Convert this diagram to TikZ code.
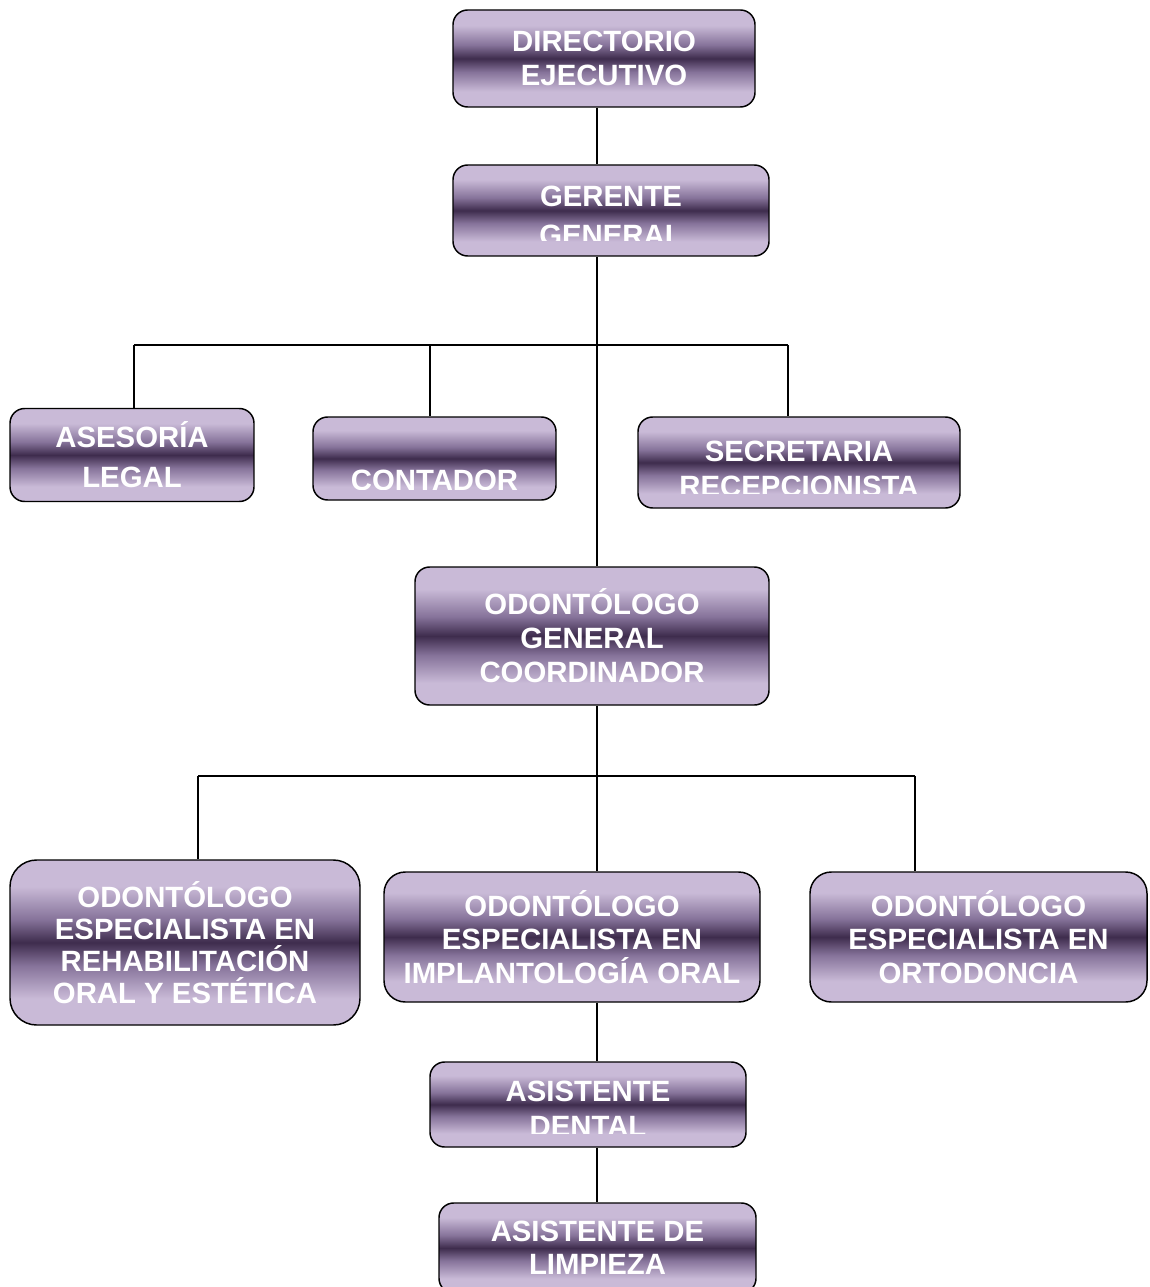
\documentclass[tikz,border=0pt]{standalone}
\usepackage{fontspec}
\setmainfont{Liberation Sans}
\definecolor{lp}{HTML}{C9BAD7}
\definecolor{mp}{HTML}{86739A}
\definecolor{dp}{HTML}{3E2C4D}
\pgfdeclareverticalshading{orgshade}{100bp}{color(0bp)=(lp); color(25bp)=(lp); color(33bp)=(lp); color(43bp)=(mp); color(50bp)=(dp); color(57bp)=(mp); color(67bp)=(lp); color(75bp)=(lp); color(100bp)=(lp)}
\tikzset{
  box/.style={draw=black, line width=1.1pt, rounded corners=11pt, shading=orgshade, rectangle,
    text=white, font=\fontsize{22}{25}\selectfont\bfseries, align=center, inner sep=0pt},
  txt/.style={text=white, font=\fontsize{22}{25}\selectfont\bfseries, align=center, inner sep=0pt},
  sz/.style 2 args={minimum width=#1*0.75pt, minimum height=#2*0.75pt},
  conn/.style={draw=black, line width=1.1pt}
}
\begin{document}
\begin{tikzpicture}[x=0.75pt, y=-0.75pt]
\clip (0,0) rectangle (1149,1287);
\fill[white] (0,0) rectangle (1149,1287);

% bus coordinates
\coordinate (sp) at (597,0);
\coordinate (busA) at (134,345);
\coordinate (busC) at (430,345);
\coordinate (busB) at (788,345);
\coordinate (busD) at (198,776);
\coordinate (busE) at (915,776);

% nodes
\node[box, sz={302}{97}] (dir) at (604,58.5) {DIRECTORIO\\EJECUTIVO};
\node[box, sz={316}{91}] (ger) at (611,210.5) {};
\node[box, sz={244}{93}, font=\fontsize{22}{30}\selectfont\bfseries] (ase) at (132,455) {ASESORÍA\\LEGAL};
\node[box, sz={243}{83}] (con) at (434.5,458.5) {};
\node[box, sz={322}{91}] (sec) at (799,462.5) {};
\node[box, sz={354}{138}, font=\fontsize{22}{25.5}\selectfont\bfseries] (odg) at (592,636) {ODONTÓLOGO\\GENERAL\\COORDINADOR};
\node[box, sz={350}{165}, rounded corners=20pt, font=\fontsize{22}{24}\selectfont\bfseries] (reh) at (185,942.5) {ODONTÓLOGO\\ESPECIALISTA EN\\REHABILITACIÓN\\ORAL Y ESTÉTICA};
\node[box, sz={376}{130}, rounded corners=16pt] (imp) at (572,937) {ODONTÓLOGO\\ESPECIALISTA EN\\IMPLANTOLOGÍA ORAL};
\node[box, sz={337}{130}, rounded corners=16pt] (ort) at (978.5,937) {ODONTÓLOGO\\ESPECIALISTA EN\\ORTODONCIA};
\node[box, sz={316}{85}] (den) at (588,1104.5) {};
\node[box, sz={317}{90}] (lim) at (597.5,1248) {ASISTENTE DE\\LIMPIEZA};

% clipped texts
\begin{scope}
  \clip (453,165) rectangle (769,241);
  \node[txt, font=\fontsize{22}{29}\selectfont\bfseries] (gerT) at (611,216) {GERENTE\\GENERAL};
\end{scope}
\begin{scope}
  \clip (313,417) rectangle (556,489);
  \node[txt] (conT) at (434.5,480) {CONTADOR};
\end{scope}
\begin{scope}
  \clip (638,417) rectangle (960,493);
  \node[txt, font=\fontsize{22}{26}\selectfont\bfseries] (secT) at (799,469) {SECRETARIA\\RECEPCIONISTA};
\end{scope}
\begin{scope}
  \clip (430,1062) rectangle (746,1133);
  \node[txt, font=\fontsize{22}{26}\selectfont\bfseries] (denT) at (588,1108.5) {ASISTENTE\\DENTAL};
\end{scope}

% connectors
\draw[conn] (dir.south -| sp) -- (ger.north -| sp);
\draw[conn] (ger.south -| sp) -- (odg.north -| sp);
\draw[conn] (busA) -- (busB);
\draw[conn] (busA) -- (busA |- ase.north);
\draw[conn] (busC) -- (busC |- con.north);
\draw[conn] (busB) -- (busB |- sec.north);
\draw[conn] (odg.south -| sp) -- (imp.north -| sp);
\draw[conn] (busD) -- (busE);
\draw[conn] (busD) -- (busD |- reh.north);
\draw[conn] (busE) -- (busE |- ort.north);
\draw[conn] (imp.south -| sp) -- (den.north -| sp);
\draw[conn] (den.south -| sp) -- (lim.north -| sp);
\end{tikzpicture}
\end{document}
